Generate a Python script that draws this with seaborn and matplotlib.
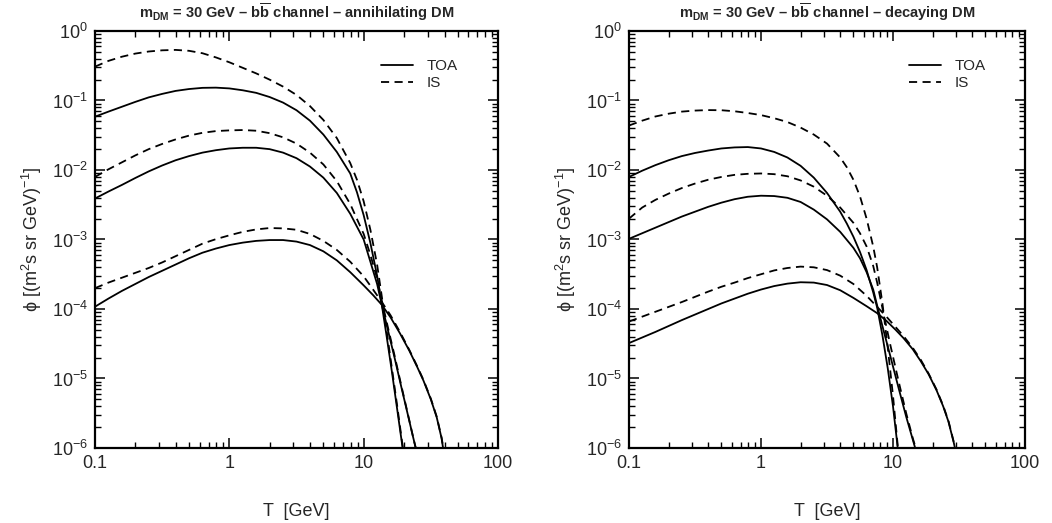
import numpy as np
import pandas as pd
import matplotlib
matplotlib.use("Agg")
import matplotlib.pyplot as plt
import seaborn as sns
from matplotlib.lines import Line2D
from matplotlib.ticker import LogLocator, FixedLocator, FixedFormatter, NullFormatter

# ---------------- data (log10 T [GeV], log10 phi) ----------------
# annihilating DM panel
ann_A_toa_logT = [-1.0, -0.9, -0.8, -0.7, -0.6, -0.5, -0.4, -0.3, -0.2, -0.1, 0.0, 0.1, 0.2, 0.3, 0.4, 0.5, 0.6, 0.7, 0.8, 0.9, 0.95, 1.0, 1.05, 1.10, 1.135, 1.17, 1.21, 1.25, 1.29, 1.30]
ann_A_toa_logphi = [-1.233, -1.16, -1.09, -1.02, -0.955, -0.905, -0.862, -0.835, -0.818, -0.815, -0.826, -0.853, -0.89, -0.95, -1.03, -1.14, -1.29, -1.49, -1.74, -2.05, -2.32, -2.65, -3.05, -3.52, -3.94, -4.38, -4.90, -5.45, -6.0, -6.15]
ann_A_is_logT = [-1.0, -0.9, -0.8, -0.7, -0.6, -0.5, -0.4, -0.3, -0.2, -0.1, 0.0, 0.1, 0.2, 0.3, 0.4, 0.5, 0.6, 0.7, 0.8, 0.9, 0.95, 1.0, 1.05, 1.10, 1.135, 1.17, 1.21, 1.25, 1.29, 1.30]
ann_A_is_logphi = [-0.513, -0.43, -0.37, -0.325, -0.295, -0.278, -0.272, -0.285, -0.32, -0.38, -0.45, -0.53, -0.61, -0.70, -0.80, -0.92, -1.08, -1.28, -1.54, -1.90, -2.14, -2.45, -2.86, -3.36, -3.82, -4.30, -4.85, -5.40, -5.97, -6.12]
ann_B_toa_logT = [-1.0, -0.9, -0.8, -0.7, -0.6, -0.5, -0.4, -0.3, -0.2, -0.1, 0.0, 0.1, 0.2, 0.3, 0.4, 0.5, 0.6, 0.7, 0.8, 0.9, 1.0, 1.05, 1.10, 1.135, 1.18, 1.23, 1.28, 1.33, 1.37, 1.40]
ann_B_toa_logphi = [-2.41, -2.31, -2.215, -2.115, -2.02, -1.935, -1.86, -1.80, -1.75, -1.715, -1.69, -1.68, -1.68, -1.70, -1.75, -1.83, -1.95, -2.11, -2.33, -2.63, -3.0, -3.32, -3.64, -3.94, -4.30, -4.70, -5.12, -5.53, -5.86, -6.1]
ann_B_is_logT = [-1.0, -0.9, -0.8, -0.7, -0.6, -0.5, -0.4, -0.3, -0.2, -0.1, 0.0, 0.1, 0.2, 0.3, 0.4, 0.5, 0.6, 0.7, 0.8, 0.9, 1.0, 1.05, 1.10, 1.135, 1.18, 1.23, 1.28, 1.33, 1.37, 1.403]
ann_B_is_logphi = [-2.10, -1.99, -1.89, -1.79, -1.70, -1.625, -1.56, -1.505, -1.465, -1.44, -1.43, -1.425, -1.435, -1.47, -1.53, -1.62, -1.75, -1.92, -2.16, -2.49, -2.92, -3.22, -3.56, -3.88, -4.26, -4.67, -5.10, -5.52, -5.86, -6.12]
ann_C_toa_logT = [-1.0, -0.9, -0.8, -0.7, -0.6, -0.5, -0.4, -0.3, -0.2, -0.1, 0.0, 0.1, 0.2, 0.3, 0.4, 0.5, 0.6, 0.7, 0.8, 0.9, 1.0, 1.07, 1.135, 1.2, 1.27, 1.34, 1.40, 1.445, 1.50, 1.544, 1.58, 1.595]
ann_C_toa_logphi = [-3.967, -3.85, -3.74, -3.64, -3.54, -3.45, -3.36, -3.27, -3.19, -3.13, -3.08, -3.045, -3.02, -3.008, -3.008, -3.03, -3.08, -3.17, -3.30, -3.47, -3.66, -3.80, -3.94, -4.12, -4.35, -4.60, -4.84, -5.03, -5.30, -5.56, -5.86, -6.05]
ann_C_is_logT = [-1.0, -0.9, -0.8, -0.7, -0.6, -0.5, -0.4, -0.3, -0.2, -0.1, 0.0, 0.1, 0.2, 0.3, 0.4, 0.5, 0.6, 0.7, 0.8, 0.9, 1.0, 1.07, 1.135, 1.2, 1.27, 1.34, 1.40, 1.445, 1.50, 1.544, 1.58, 1.597]
ann_C_is_logphi = [-3.70, -3.62, -3.55, -3.48, -3.41, -3.33, -3.24, -3.15, -3.06, -2.995, -2.94, -2.89, -2.855, -2.835, -2.84, -2.86, -2.92, -3.02, -3.15, -3.32, -3.53, -3.72, -3.90, -4.09, -4.33, -4.59, -4.83, -5.02, -5.29, -5.55, -5.85, -6.05]

# decaying DM panel
dec_A_toa_logT = [-1.0, -0.9, -0.8, -0.7, -0.6, -0.5, -0.4, -0.3, -0.2, -0.1, 0.0, 0.1, 0.2, 0.3, 0.4, 0.5, 0.6, 0.65, 0.7, 0.75, 0.8, 0.85, 0.88, 0.92, 0.96, 1.00, 1.03, 1.04]
dec_A_toa_logphi = [-2.10, -2.01, -1.93, -1.86, -1.80, -1.755, -1.72, -1.69, -1.675, -1.67, -1.69, -1.74, -1.82, -1.94, -2.11, -2.33, -2.60, -2.77, -2.96, -3.18, -3.44, -3.76, -3.98, -4.38, -4.85, -5.40, -5.90, -6.08]
dec_A_is_logT = [-1.0, -0.9, -0.8, -0.7, -0.6, -0.5, -0.4, -0.3, -0.2, -0.1, 0.0, 0.1, 0.2, 0.3, 0.4, 0.5, 0.6, 0.65, 0.7, 0.75, 0.8, 0.85, 0.88, 0.92, 0.96, 1.00, 1.03, 1.04]
dec_A_is_logphi = [-1.36, -1.29, -1.23, -1.19, -1.16, -1.145, -1.138, -1.14, -1.155, -1.18, -1.21, -1.255, -1.31, -1.39, -1.49, -1.62, -1.82, -1.96, -2.14, -2.38, -2.70, -3.10, -3.40, -3.92, -4.55, -5.25, -5.85, -6.05]
dec_B_toa_logT = [-1.0, -0.9, -0.8, -0.7, -0.6, -0.5, -0.4, -0.3, -0.2, -0.1, 0.0, 0.1, 0.2, 0.3, 0.4, 0.5, 0.6, 0.7, 0.75, 0.8, 0.85, 0.88, 0.93, 0.98, 1.04, 1.10, 1.15, 1.18]
dec_B_toa_logphi = [-2.99, -2.91, -2.83, -2.75, -2.67, -2.60, -2.53, -2.47, -2.42, -2.385, -2.37, -2.375, -2.40, -2.46, -2.57, -2.71, -2.89, -3.12, -3.27, -3.47, -3.72, -3.95, -4.32, -4.68, -5.12, -5.55, -5.88, -6.08]
dec_B_is_logT = [-1.0, -0.9, -0.8, -0.7, -0.6, -0.5, -0.4, -0.3, -0.2, -0.1, 0.0, 0.1, 0.2, 0.3, 0.4, 0.5, 0.6, 0.7, 0.75, 0.8, 0.85, 0.88, 0.93, 0.98, 1.04, 1.10, 1.15, 1.185]
dec_B_is_logphi = [-2.70, -2.54, -2.43, -2.34, -2.26, -2.195, -2.14, -2.10, -2.07, -2.055, -2.05, -2.06, -2.09, -2.15, -2.24, -2.37, -2.54, -2.76, -2.91, -3.10, -3.38, -3.62, -4.08, -4.52, -5.02, -5.50, -5.86, -6.08]
dec_C_toa_logT = [-1.0, -0.9, -0.8, -0.7, -0.6, -0.5, -0.4, -0.3, -0.2, -0.1, 0.0, 0.1, 0.2, 0.3, 0.4, 0.5, 0.6, 0.7, 0.8, 0.88, 0.95, 1.02, 1.08, 1.15, 1.21, 1.27, 1.33, 1.38, 1.42, 1.46, 1.475]
dec_C_toa_logphi = [-4.49, -4.41, -4.33, -4.245, -4.16, -4.08, -4.00, -3.92, -3.85, -3.78, -3.72, -3.67, -3.635, -3.615, -3.62, -3.655, -3.73, -3.84, -3.96, -4.06, -4.17, -4.30, -4.42, -4.58, -4.75, -4.94, -5.17, -5.40, -5.62, -5.92, -6.05]
dec_C_is_logT = [-1.0, -0.9, -0.8, -0.7, -0.6, -0.5, -0.4, -0.3, -0.2, -0.1, 0.0, 0.1, 0.2, 0.3, 0.4, 0.5, 0.6, 0.7, 0.8, 0.88, 0.95, 1.02, 1.08, 1.15, 1.21, 1.27, 1.33, 1.38, 1.42, 1.46, 1.477]
dec_C_is_logphi = [-4.18, -4.11, -4.04, -3.97, -3.90, -3.825, -3.75, -3.68, -3.62, -3.555, -3.50, -3.445, -3.41, -3.39, -3.40, -3.44, -3.52, -3.64, -3.81, -3.97, -4.11, -4.26, -4.39, -4.56, -4.73, -4.93, -5.16, -5.39, -5.61, -5.91, -6.05]

titles = [r"$\mathbf{m_{DM}}$ = 30 GeV – b$\mathbf{\overline{b}}$ channel – annihilating DM",
          r"$\mathbf{m_{DM}}$ = 30 GeV – b$\mathbf{\overline{b}}$ channel – decaying DM"]
kinds = ["TOA", "IS"]
x_tick_vals = [0.1, 1, 10, 100]
x_tick_labels = ["0.1", "1", "10", "100"]
y_tick_vals = [1e-6, 1e-5, 1e-4, 1e-3, 1e-2, 1e-1, 1]
y_tick_labels = [r"$10^{-6}$", r"$10^{-5}$", r"$10^{-4}$", r"$10^{-3}$", r"$10^{-2}$", r"$10^{-1}$", r"$10^{0}$"]

panels = [
    {"A": {"TOA": (ann_A_toa_logT, ann_A_toa_logphi), "IS": (ann_A_is_logT, ann_A_is_logphi)},
     "B": {"TOA": (ann_B_toa_logT, ann_B_toa_logphi), "IS": (ann_B_is_logT, ann_B_is_logphi)},
     "C": {"TOA": (ann_C_toa_logT, ann_C_toa_logphi), "IS": (ann_C_is_logT, ann_C_is_logphi)}},
    {"A": {"TOA": (dec_A_toa_logT, dec_A_toa_logphi), "IS": (dec_A_is_logT, dec_A_is_logphi)},
     "B": {"TOA": (dec_B_toa_logT, dec_B_toa_logphi), "IS": (dec_B_is_logT, dec_B_is_logphi)},
     "C": {"TOA": (dec_C_toa_logT, dec_C_toa_logphi), "IS": (dec_C_is_logT, dec_C_is_logphi)}},
]

# ---------------- style ----------------
sns.set_style("ticks")
plt.rcParams['font.family'] = ['Liberation Sans', 'DejaVu Sans']
plt.rcParams['mathtext.fontset'] = 'custom'
plt.rcParams['mathtext.rm'] = 'Liberation Sans'
plt.rcParams['mathtext.it'] = 'Liberation Sans:italic'
plt.rcParams['mathtext.bf'] = 'Liberation Sans:bold'
plt.rcParams['mathtext.sf'] = 'Liberation Sans'
plt.rcParams['axes.unicode_minus'] = True

fig = plt.figure(figsize=(10.52, 5.23), dpi=100)
W, H = 1052, 523
axes = [fig.add_axes([95 / W, 75 / H, 403 / W, 417 / H]),
        fig.add_axes([629 / W, 75 / H, 396 / W, 417 / H])]

DASH = (4.5, 3.0)
for ax, panel, title in zip(axes, panels, titles):
    rows = []
    for model, d in panel.items():
        for kind in kinds:
            lt, lp = d[kind]
            for a, b in zip(lt, lp):
                rows.append({"T": 10 ** a, "phi": 10 ** b, "model": model, "kind": kind})
    df = pd.DataFrame(rows)
    sns.lineplot(data=df, x="T", y="phi", units="model", style="kind", style_order=kinds,
                 dashes={"TOA": "", "IS": DASH}, color="black", lw=1.3,
                 estimator=None, legend=False, ax=ax)
    ax.set_xscale("log")
    ax.set_yscale("log")
    ax.set_xlim(0.1, 100)
    ax.set_ylim(1e-6, 1)
    ax.xaxis.set_major_locator(FixedLocator(x_tick_vals))
    ax.xaxis.set_major_formatter(FixedFormatter(x_tick_labels))
    ax.xaxis.set_minor_locator(LogLocator(base=10, subs=np.arange(2, 10), numticks=20))
    ax.xaxis.set_minor_formatter(NullFormatter())
    ax.yaxis.set_major_locator(FixedLocator(y_tick_vals))
    ax.yaxis.set_major_formatter(FixedFormatter(y_tick_labels))
    ax.yaxis.set_minor_locator(LogLocator(base=10, subs=np.arange(2, 10), numticks=20))
    ax.yaxis.set_minor_formatter(NullFormatter())
    ax.tick_params(which="both", direction="in", top=True, right=True, labelsize=13,
                   color="black")
    ax.tick_params(which="major", length=7, width=1.1, pad=5)
    ax.tick_params(which="minor", length=4, width=1.0)
    for s in ax.spines.values():
        s.set_linewidth(1.6)
        s.set_color("black")
    ax.set_xlabel("T  [GeV]", fontsize=13, labelpad=22)
    ax.set_ylabel("\u03d5 [(m$^2$s sr GeV)$^{-1}$]", fontsize=13, labelpad=6)
    ax.set_title(title, fontsize=10.5, fontweight="bold", pad=9)
    handles = [Line2D([], [], color="black", lw=1.3),
               Line2D([], [], color="black", lw=1.3, dashes=DASH)]
    ax.legend(handles, kinds, loc="upper right", bbox_to_anchor=(0.935, 0.965),
              frameon=False, fontsize=11, handlelength=2.1, labelspacing=0.2,
              handletextpad=0.9)

fig.savefig("out.png", dpi=100, facecolor="white")
